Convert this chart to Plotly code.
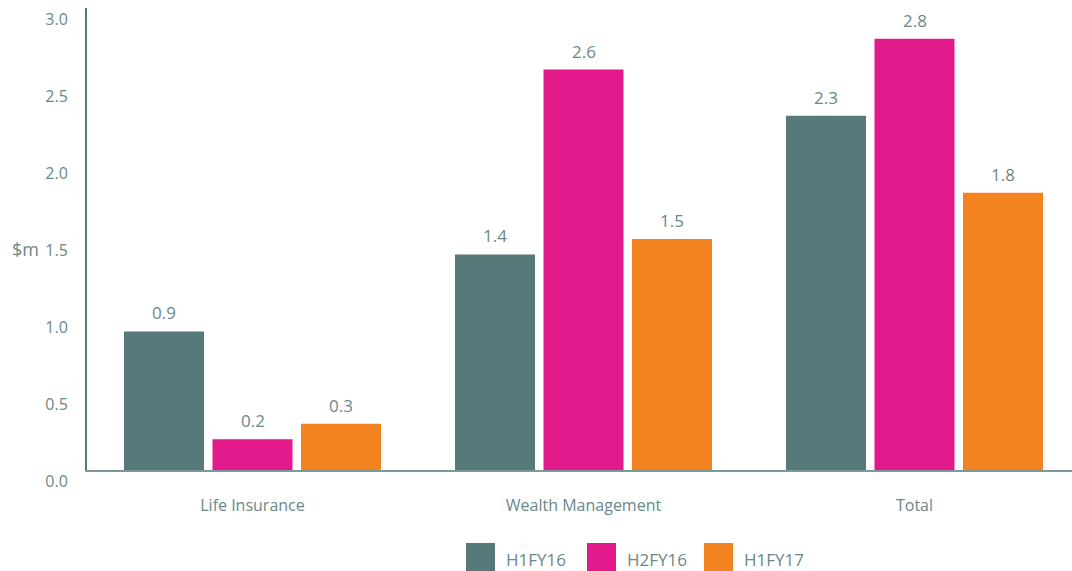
import plotly.graph_objects as go

# Data
categories = ["Life Insurance", "Wealth Management", "Total"]
series_names = ["H1FY16", "H2FY16", "H1FY17"]
h1fy16 = [0.9, 1.4, 2.3]
h2fy16 = [0.2, 2.6, 2.8]
h1fy17 = [0.3, 1.5, 1.8]
y_ticks = [0.0, 0.5, 1.0, 1.5, 2.0, 2.5, 3.0]

colors = ["#587979", "#e2198b", "#f38321"]
text_color = "#6a8888"
axis_color = "#577878"
font_family = "Open Sans"

W, H = 1072, 571
margin = dict(l=87, r=0, t=8, b=101)
plot_w = W - margin["l"] - margin["r"]
plot_h = H - margin["t"] - margin["b"]

cat_px = 331.0          # pixel distance between category centres
slot = 88.5 / cat_px    # width of one bar slot in category units
bargap = 1 - 3 * slot
bargroupgap = 8.5 / 88.5

fig = go.Figure()
all_series = [h1fy16, h2fy16, h1fy17]
for name, vals, col in zip(series_names, all_series, colors):
    fig.add_trace(go.Bar(
        x=categories, y=vals, name=name,
        marker=dict(color=col, line=dict(width=0)),
        showlegend=False,
    ))


def px_to_paper_x(px):
    return (px - margin["l"]) / plot_w


def px_to_paper_y(py):
    return (margin["t"] + plot_h - py) / plot_h


# Value labels above each bar
annotations = []
for k, vals in enumerate(all_series):
    offset = (k - 1) * slot
    for i, v in enumerate(vals):
        annotations.append(dict(
            x=i + offset, y=v, xref="x", yref="y",
            text=f"{v:.1f}", showarrow=False,
            yanchor="bottom", yshift=5,
            font=dict(family=font_family, size=17, color=text_color),
        ))

# Y axis unit label
annotations.append(dict(
    x=px_to_paper_x(25), y=px_to_paper_y(249), xref="paper", yref="paper",
    text="$m", showarrow=False, xanchor="center", yanchor="middle",
    font=dict(family=font_family, size=18, color=text_color),
))

# Legend: coloured squares with labels below the chart
legend_left = [466, 587, 704]
shapes = []
for name, col, lx in zip(series_names, colors, legend_left):
    shapes.append(dict(
        type="rect", xref="paper", yref="paper",
        x0=px_to_paper_x(lx), x1=px_to_paper_x(lx + 29),
        y0=px_to_paper_y(571), y1=px_to_paper_y(543),
        fillcolor=col, line=dict(width=0),
    ))
    annotations.append(dict(
        x=px_to_paper_x(lx + 38), y=px_to_paper_y(559),
        xref="paper", yref="paper", text=name, showarrow=False,
        xanchor="left", yanchor="middle",
        font=dict(family=font_family, size=17, color=text_color),
    ))

fig.update_layout(
    width=W, height=H, margin=margin,
    paper_bgcolor="white", plot_bgcolor="white",
    barmode="group", bargap=bargap, bargroupgap=bargroupgap,
    annotations=annotations, shapes=shapes,
    font=dict(family=font_family, color=text_color),
)
fig.update_xaxes(
    range=[-0.5, -0.5 + plot_w / cat_px],
    showline=True, linecolor="#7d9898", linewidth=2,
    showgrid=False, ticks="", ticklabelstandoff=20,
    tickfont=dict(family=font_family, size=16, color=text_color),
)
fig.update_yaxes(
    range=[0, 3.0], tickvals=y_ticks,
    ticktext=[f"{t:.1f}" for t in y_ticks],
    showline=True, linecolor=axis_color, linewidth=2,
    showgrid=False, zeroline=False, ticks="",
    ticklabelstandoff=14, ticklabelshift=11,
    tickfont=dict(family=font_family, size=16, color=text_color),
)

fig.write_html("out.html")
